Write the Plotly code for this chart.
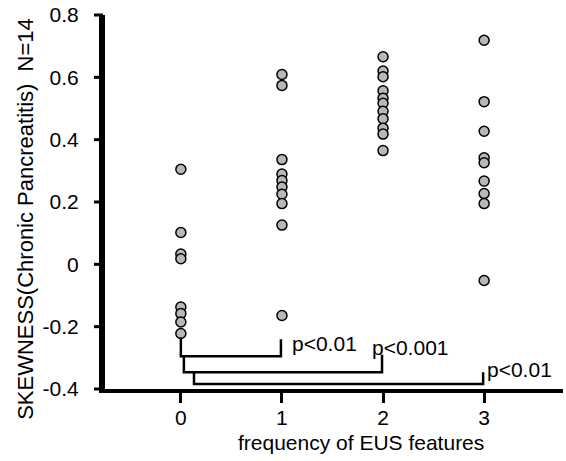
import plotly.graph_objects as go

categories = [0, 1, 2, 3]
tick_labels = ["0", "1", "2", "3"]
group0 = [0.305, 0.102, 0.033, 0.018, -0.137, -0.158, -0.185, -0.222]
group1 = [0.609, 0.574, 0.336, 0.29, 0.269, 0.248, 0.225, 0.195, 0.126, -0.164]
group2 = [0.666, 0.62, 0.602, 0.557, 0.533, 0.517, 0.491, 0.467, 0.437, 0.418, 0.365]
group3 = [0.719, 0.522, 0.427, 0.342, 0.326, 0.267, 0.227, 0.195, -0.052]
groups = [group0, group1, group2, group3]
y_ticks = [-0.4, -0.2, 0, 0.2, 0.4, 0.6, 0.8]
y_tick_labels = ["-0.4", "-0.2", "0", "0.2", "0.4", "0.6", "0.8"]
Y_RANGE = [-0.4, 0.8]

# significance brackets: (x_left, x_right, y_left_top, y_right_top, y_bottom, label, label_x, label_y)
brackets = [
    (0.0, 0.99, -0.235, -0.24, -0.295, "p<0.01", 1.08, -0.253),
    (0.03, 1.99, -0.295, -0.29, -0.346, "p<0.001", 1.87, -0.266),
    (0.13, 2.99, -0.346, -0.346, -0.384, "p<0.01", 3.01, -0.339),
]

FONT = "Liberation Sans, Arial, sans-serif"
W, H = 566, 461
ML, MR, MT, MB = 103, 3, 13, 72
PW = W - ML - MR


def ypaper(v):
    return (v - Y_RANGE[0]) / (Y_RANGE[1] - Y_RANGE[0])


xs, ys = [], []
for c, g in zip(categories, groups):
    xs += [c] * len(g)
    ys += g

fig = go.Figure()
fig.add_trace(go.Scatter(
    x=xs, y=ys, mode="markers",
    marker=dict(size=10, color="#b8b8b8", line=dict(color="black", width=1.5)),
    showlegend=False, cliponaxis=False,
))

shapes = []
annotations = []
for xl, xr, ylt, yrt, yb, lab, lx, ly in brackets:
    shapes.append(dict(type="path", xref="x", yref="y",
                       path=f"M {xl},{ylt} L {xl},{yb} L {xr},{yb} L {xr},{yrt}",
                       line=dict(color="black", width=2.5)))
    annotations.append(dict(x=lx, y=ly, xref="x", yref="y", text=lab, showarrow=False,
                            xanchor="left", yanchor="middle",
                            font=dict(family=FONT, size=21, color="black")))

# y axis line and ticks drawn explicitly in paper coordinates
shapes.append(dict(type="line", xref="paper", yref="paper", x0=0, x1=0,
                   y0=ypaper(Y_RANGE[0]), y1=ypaper(Y_RANGE[1]),
                   line=dict(color="black", width=4), layer="above"))
for t in y_ticks:
    shapes.append(dict(type="line", xref="paper", yref="paper", x0=-9 / PW, x1=0,
                       y0=ypaper(t), y1=ypaper(t), line=dict(color="black", width=3),
                       layer="above"))

annotations.append(dict(
    x=(361 - ML) / PW, y=-0.142, xref="paper", yref="paper",
    text="frequency of EUS features", showarrow=False,
    xanchor="center", yanchor="middle",
    font=dict(family=FONT, size=21, color="black")))
annotations.append(dict(
    x=(26 - ML) / PW, y=0.455, xref="paper", yref="paper",
    text="SKEWNESS(Chronic Pancreatitis)  N=14", showarrow=False, textangle=-90,
    xanchor="center", yanchor="middle",
    font=dict(family=FONT, size=22, color="black")))

fig.update_layout(
    width=W, height=H,
    margin=dict(l=ML, r=MR, t=MT, b=MB),
    paper_bgcolor="white", plot_bgcolor="white",
    shapes=shapes,
    annotations=annotations,
    xaxis=dict(range=[-0.77, 3.78], tickvals=categories, ticktext=tick_labels,
               showgrid=False, zeroline=False, showline=True, linecolor="#000000", linewidth=3.5,
               ticks="outside", ticklen=10, tickwidth=3, tickcolor="#000000",
               ticklabelstandoff=-3,
               tickfont=dict(family=FONT, size=21, color="black")),
    yaxis=dict(range=Y_RANGE, tickvals=y_ticks, ticktext=y_tick_labels,
               showgrid=False, zeroline=False, showline=True, linecolor="#000000", linewidth=4,
               ticks="", ticklabelstandoff=16,
               tickfont=dict(family=FONT, size=21, color="black")),
)

fig.write_html("out.html", post_script="document.body.style.margin='0';",
               config={"displayModeBar": False})
